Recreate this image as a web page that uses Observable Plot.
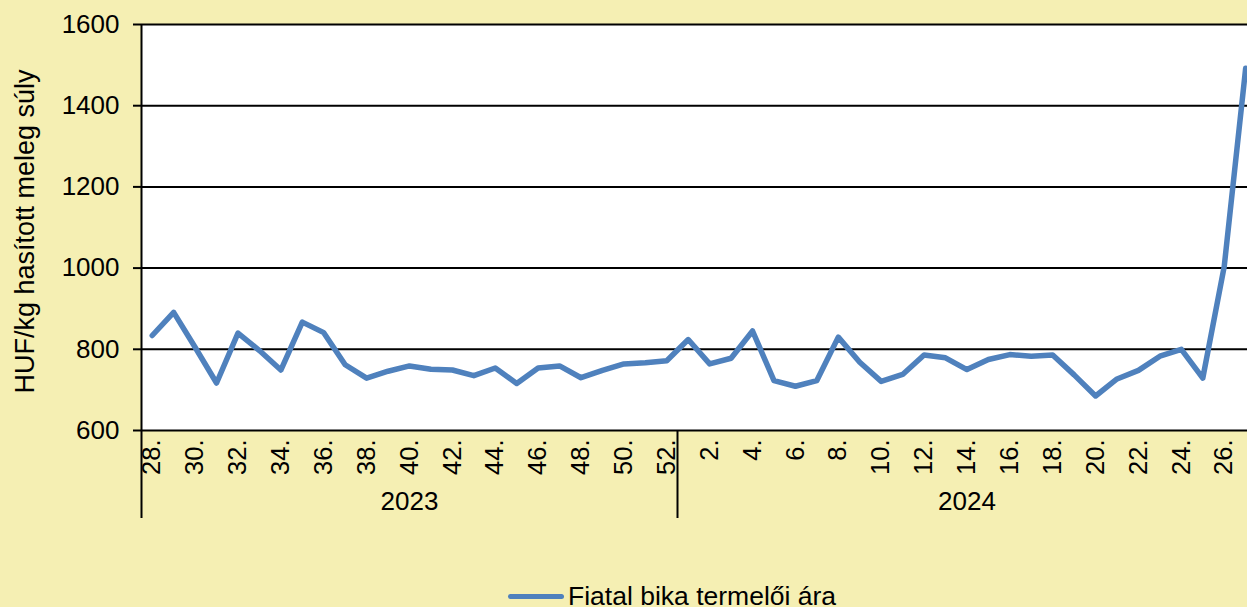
<!DOCTYPE html>
<html>
<head>
<meta charset="utf-8">
<script src="https://cdn.jsdelivr.net/npm/d3@7"></script>
<script src="https://cdn.jsdelivr.net/npm/@observablehq/plot@0.6"></script>
<style>
  html, body { margin: 0; padding: 0; background: #F5EFB3; }
  #wrap { width: 1247px; height: 607px; overflow: hidden; position: relative; background: #F5EFB3; font-family: "Liberation Sans", Arial, sans-serif; }
  #legend { position: absolute; left: 508px; top: 581px; display: flex; align-items: center; font-size: 26.5px; color: #000; white-space: nowrap; }
  #legend .sw { width: 56px; height: 5.5px; background: #4F81BD; border-radius: 3px; margin-right: 4px; }
</style>
</head>
<body>
<div id="wrap"><div id="chart"></div><div id="legend"><span class="sw"></span><span>Fiatal bika termelői ára</span></div></div>
<script>
const years = ["2023", "2024"];
const weeks2023 = [28, 29, 30, 31, 32, 33, 34, 35, 36, 37, 38, 39, 40, 41, 42, 43, 44, 45, 46, 47, 48, 49, 50, 51, 52];
const values2023 = [834, 891, 805, 717, 840, 797, 749, 867, 841, 762, 729, 746, 759, 751, 749, 735, 754, 716, 754, 759, 730, 748, 764, 767, 772];
const weeks2024 = [1, 2, 3, 4, 5, 6, 7, 8, 9, 10, 11, 12, 13, 14, 15, 16, 17, 18, 19, 20, 21, 22, 23, 24, 25, 26, 27];
const values2024 = [824, 764, 778, 845, 723, 709, 723, 830, 768, 721, 738, 786, 779, 750, 775, 787, 783, 786, 737, 685, 727, 748, 783, 800, 729, 1004, 1492];
const yTicks = [600, 800, 1000, 1200, 1400, 1600];
const seriesName = "Fiatal bika termelői ára";
const yLabel = "HUF/kg hasított meleg súly";

const data = [
  ...weeks2023.map((w, i) => ({year: years[0], week: w, value: values2023[i]})),
  ...weeks2024.map((w, i) => ({year: years[1], week: w, value: values2024[i]}))
].map((d, i) => ({...d, i}));

const n = data.length;
const tickIdx = data.filter(d => d.i % 2 === 0).map(d => d.i);
const labelOf = new Map(data.map(d => [d.i, d.week + "."]));
const groups = years.map(y => {
  const rows = data.filter(d => d.year === y);
  return {year: y, start: rows[0].i - 0.5, mid: rows[Math.floor(rows.length / 2)].i};
});

const left = 141, step = 21.44;
const font = "Liberation Sans, Arial, sans-serif";

const chart = Plot.plot({
  width: 1247,
  height: 560,
  marginLeft: left,
  marginRight: 0,
  marginTop: 24,
  marginBottom: 130,
  style: {background: "transparent", fontFamily: font, color: "#000"},
  x: {type: "linear", domain: [-0.5, n - 0.5], range: [left, left + n * step]},
  y: {domain: [600, 1600]},
  marks: [
    Plot.frame({fill: "#ffffff", stroke: null}),
    Plot.ruleY(yTicks, {stroke: "#000", strokeWidth: 2}),
    Plot.ruleX(groups, {x: "start", y1: d => d.year === years[0] ? 1600 : 600, y2: 600, insetBottom: -88, stroke: "#000", strokeWidth: 2}),
    Plot.axisY({ticks: yTicks, tickSize: 8, tickPadding: 14, strokeWidth: 2, fontSize: 26, label: null, tickFormat: d => String(d)}),
    Plot.axisX({ticks: tickIdx, tickSize: 0, tickPadding: 9, tickRotate: -90, fontSize: 25.5, label: null, tickFormat: d => labelOf.get(d)}),
    Plot.text(groups, {x: "mid", text: "year", frameAnchor: "bottom", lineAnchor: "middle", dy: 71, fontSize: 26, fill: "#000"}),
    Plot.text([yLabel], {frameAnchor: "left", textAnchor: "middle", lineAnchor: "middle", dx: -116, dy: 4, rotate: -90, fontSize: 27, fill: "#000"}),
    Plot.line(data, {x: "i", y: "value", stroke: "#4F81BD", strokeWidth: 5.5, strokeLinejoin: "round", strokeLinecap: "round"})
  ]
});
document.getElementById("chart").appendChild(chart);
</script>
</body>
</html>
